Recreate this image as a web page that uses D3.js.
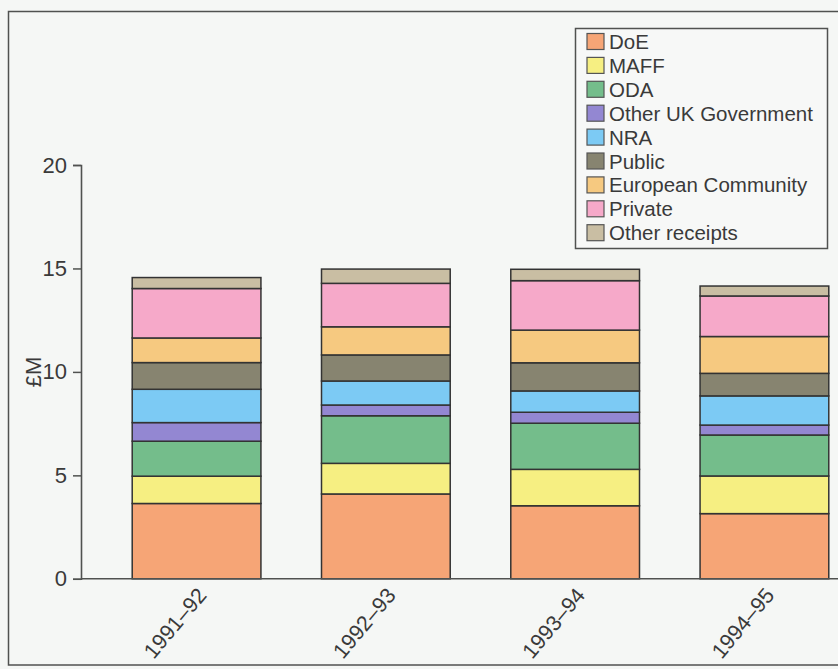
<!DOCTYPE html>
<html>
<head>
<meta charset="utf-8">
<script src="https://cdn.jsdelivr.net/npm/d3@7"></script>
<style>
  html, body { margin: 0; padding: 0; background: #f5f7f5; }
  svg { display: block; font-family: "Liberation Sans", Arial, sans-serif; }
</style>
</head>
<body>
<svg id="chart" width="838" height="669"></svg>
<script>
// Funding sources by year, £ million
const years = ["1991–92", "1992–93", "1993–94", "1994–95"];
const sources = ["DoE", "MAFF", "ODA", "Other UK Government", "NRA", "Public",
                 "European Community", "Private", "Other receipts"];
const colors = ["#f6a576", "#f6ef82", "#74bd8b", "#9387d2", "#7ccaf4", "#878470",
                "#f6c980", "#f6a9c9", "#c9bea3"];

const doe        = [3.64, 4.10, 3.53, 3.15];
const maff       = [1.32, 1.48, 1.76, 1.82];
const oda        = [1.69, 2.30, 2.23, 1.98];
const otherUKGov = [0.90, 0.52, 0.53, 0.48];
const nra        = [1.61, 1.16, 1.03, 1.41];
const publicFund = [1.29, 1.26, 1.36, 1.09];
const eurComm    = [1.19, 1.36, 1.58, 1.78];
const privateFund= [2.39, 2.10, 2.39, 1.96];
const otherRec   = [0.53, 0.69, 0.55, 0.48];

const yTicks = [0, 5, 10, 15, 20];

const seriesValues = [doe, maff, oda, otherUKGov, nra, publicFund, eurComm, privateFund, otherRec];
const rows = years.map((yr, i) => {
  const r = { year: yr };
  sources.forEach((s, k) => { r[s] = seriesValues[k][i]; });
  return r;
});

const svg = d3.select("#chart");
const axisColor = "#505250";
const textColor = "#3a3a3a";

// outer frame
svg.append("rect")
  .attr("x", 8.5).attr("y", 11.5).attr("width", 900).attr("height", 653.5)
  .attr("fill", "none").attr("stroke", axisColor).attr("stroke-width", 1.5);

const x = d3.scaleBand().domain(years).range([83, 878])
  .paddingInner(0.32).paddingOuter(0.26);
const y = d3.scaleLinear().domain([0, 20]).range([578.8, 165]);

const stack = d3.stack().keys(sources)(rows);

// stacked bars
svg.append("g").selectAll("g").data(stack).join("g")
  .attr("fill", (d, i) => colors[i])
  .selectAll("rect").data(d => d).join("rect")
    .attr("x", d => x(d.data.year))
    .attr("width", x.bandwidth())
    .attr("y", d => y(d[1]))
    .attr("height", d => y(d[0]) - y(d[1]))
    .attr("stroke", "#333")
    .attr("stroke-width", 1.5);

// y axis
const yAxis = svg.append("g").attr("transform", "translate(81,0)")
  .call(d3.axisLeft(y).tickValues(yTicks).tickSize(8).tickPadding(6));
yAxis.select(".domain").attr("stroke", axisColor).attr("stroke-width", 1.6);
yAxis.selectAll(".tick line").attr("stroke", axisColor).attr("stroke-width", 1.5);
yAxis.selectAll(".tick text").attr("fill", textColor)
  .attr("font-size", 22).attr("font-family", "Liberation Sans, Arial, sans-serif");

// baseline
svg.append("line")
  .attr("x1", 81).attr("x2", 838).attr("y1", y(0)).attr("y2", y(0))
  .attr("stroke", axisColor).attr("stroke-width", 1.6);

// y axis title
svg.append("text")
  .attr("transform", `translate(41,${y(10)}) rotate(-90)`)
  .attr("text-anchor", "middle")
  .attr("font-size", 22).attr("fill", textColor)
  .text("£M");

// x labels, rotated
svg.append("g").selectAll("text").data(years).join("text")
  .attr("transform", d => `translate(${x(d) + x.bandwidth() / 2 + 11},${y(0) + 17}) rotate(-50)`)
  .attr("text-anchor", "end")
  .attr("font-size", 21.5).attr("fill", textColor)
  .text(d => d);

// legend
const legend = svg.append("g");
legend.append("rect")
  .attr("x", 575.5).attr("y", 28.5).attr("width", 252).attr("height", 220)
  .attr("fill", "#f7f8f7").attr("stroke", axisColor).attr("stroke-width", 1.5);
const item = legend.selectAll("g.item").data(sources).join("g")
  .attr("class", "item")
  .attr("transform", (d, i) => `translate(587,${41.5 + i * 23.9})`);
item.append("rect")
  .attr("x", 0).attr("y", -8).attr("width", 17).attr("height", 16)
  .attr("fill", (d, i) => colors[i]).attr("stroke", "#555").attr("stroke-width", 1.2);
item.append("text")
  .attr("x", 22).attr("y", 7.5)
  .attr("font-size", 20.5).attr("fill", textColor)
  .text(d => d);
</script>
</body>
</html>
